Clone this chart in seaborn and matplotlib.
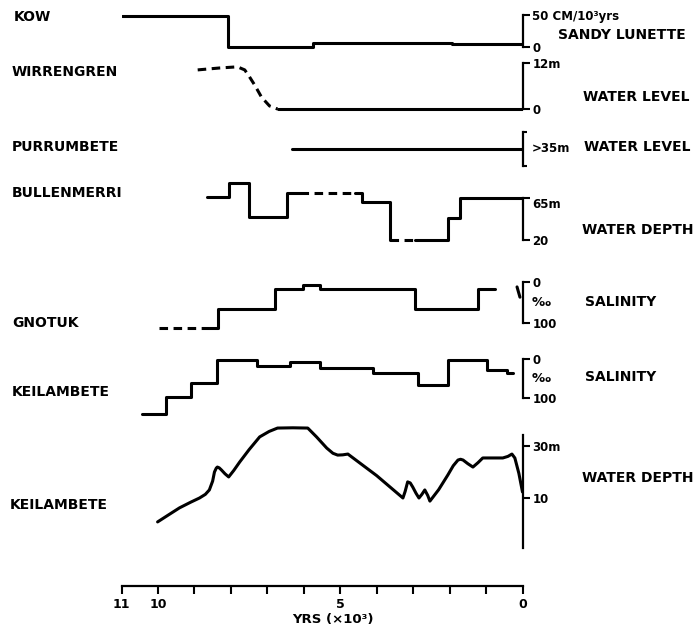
import matplotlib
matplotlib.use("Agg")
import matplotlib.pyplot as plt
import seaborn as sns

# ---------------- data (time in 10^3 yrs BP) ----------------
# KOW sandy lunette accumulation (cm / 10^3 yrs)
kow_t = [11.0, 8.09, 5.75, 1.93, 0.0]
kow_v = [48, 0, 6.7, 5.2, 5.2]

# WIRRENGREN water level (m)
wir_dash_t = [8.91, 8.31, 7.82, 7.62, 7.49, 7.35, 7.16, 6.94, 6.72]
wir_dash_v = [10.2, 10.7, 11.0, 10.2, 8.4, 6.3, 3.1, 0.8, 0.0]
wir_t = [6.72, 0.0]
wir_v = [0.0, 0.0]

# PURRUMBETE water level (m)
pur_t = [6.32, 0.0]
pur_v = [35, 35]

# BULLENMERRI water depth (m)
bul_a_t = [8.66, 8.04, 7.49, 6.47, 6.10]
bul_a_v = [66, 81, 45, 70, 70]
bul_b_t = [6.10, 4.60]
bul_b_v = [70, 70]
bul_c_t = [4.60, 4.40, 3.64]
bul_c_v = [70, 61, 20]
bul_d_t = [3.64, 2.95]
bul_d_v = [20, 20]
bul_e_t = [2.95, 2.05, 1.72, 0.20, 0.0]
bul_e_v = [20, 44, 65, 65, 58]

# GNOTUK salinity (per mille)
gno_dash_t = [9.96, 8.60]
gno_dash_v = [112, 112]
gno_t = [8.60, 8.36, 6.80, 6.03, 5.56, 2.95, 1.22, 0.76]
gno_v = [112, 66, 17, 7, 17, 66, 17, 17]
gno_mark_t = [0.15, 0.07]
gno_mark_v = [12, 37]

# KEILAMBETE salinity (per mille)
kes_t = [10.43, 9.77, 9.08, 8.37, 7.29, 6.39, 5.56, 4.11, 2.87, 2.05, 0.98, 0.43, 0.26]
kes_v = [141, 97, 62, 3, 18, 8, 23, 36, 67, 3, 28, 36, 36]

# KEILAMBETE water depth (m)
ked_t = [10.01, 9.70, 9.41, 9.10, 8.86, 8.70, 8.59, 8.50, 8.45, 8.40, 8.37, 8.32,
         8.26, 8.16, 8.06, 7.92, 7.76, 7.50, 7.21, 6.95, 6.72, 6.30, 5.89, 5.65,
         5.37, 5.20, 5.07, 4.93, 4.79, 4.00, 3.28, 3.22, 3.15, 3.08, 3.01, 2.92,
         2.84, 2.76, 2.68, 2.60, 2.54, 2.30, 2.05, 1.90, 1.77, 1.70, 1.63, 1.50,
         1.36, 1.22, 1.09, 0.80, 0.54, 0.40, 0.29, 0.21, 0.10, 0.0]
ked_v = [0.8, 3.6, 6.2, 8.4, 10.0, 11.4, 13.1, 16.5, 20.0, 21.5, 21.9, 21.6,
         20.8, 19.3, 18.1, 20.6, 23.8, 28.6, 33.5, 35.6, 36.9, 37.0, 36.9, 33.5,
         29.2, 27.2, 26.5, 26.6, 26.9, 18.6, 10.0, 12.5, 16.2, 15.8, 14.2, 11.8,
         10.0, 11.4, 13.1, 11.0, 8.8, 13.2, 18.8, 22.4, 24.6, 24.9, 24.6, 23.2,
         21.9, 23.6, 25.4, 25.4, 25.4, 26.0, 26.9, 25.4, 19.5, 12.3]

year_ticks = list(range(11, -1, -1))
year_labels = ["11", "10", "", "", "", "", "5", "", "", "", "", "0"]

# ---------------- styling ----------------
sns.set_style("white")
plt.rcParams["font.family"] = ["DejaVu Sans"]
plt.rcParams["font.weight"] = "bold"
plt.rcParams["text.color"] = "black"
plt.rcParams["xtick.color"] = "black"
plt.rcParams["ytick.color"] = "black"

W, H = 696, 631
fig = plt.figure(figsize=(W / 100, H / 100), dpi=100)
X0, X1 = 121.5, 522.5
LW = 2.2


def panel(ytop, ybot, v1, y1, v2, y2):
    ax = fig.add_axes([X0 / W, 1 - ybot / H, (X1 - X0) / W, (ybot - ytop) / H])
    k = (v2 - v1) / (y2 - y1)
    ax._lims = (v1 + (ybot - y1) * k, v1 + (ytop - y1) * k)
    ax.patch.set_alpha(0)
    for s in ["left", "top", "bottom"]:
        ax.spines[s].set_visible(False)
    ax.spines["right"].set_linewidth(1.6)
    ax.spines["right"].set_color("black")
    ax.yaxis.tick_right()
    ax.tick_params(axis="y", right=True, direction="out", length=5, width=1.5,
                   pad=2, labelsize=8.5, colors="black")
    return ax


def finish(ax):
    ax.set_xlim(11, 0)
    ax.set_ylim(*ax._lims)
    ax.set_xticks([])
    ax.set_xlabel("")
    ax.set_ylabel("")


def draw(ax, t, v, dashed=False, steps=True):
    sns.lineplot(x=t, y=v, ax=ax, color="black", linewidth=LW, estimator=None,
                 sort=False, legend=False,
                 drawstyle="steps-post" if steps else "default",
                 linestyle=(0, (2.8, 1.8)) if dashed else "-")


def side_text(ax, v, s, dx=9, size=8.5):
    ax.text(1.0 + dx / (X1 - X0), v, s, transform=ax.get_yaxis_transform(),
            ha="left", va="center", fontsize=size, color="black")


# KOW
ax = panel(5, 55, 50, 15, 0, 47)
draw(ax, kow_t, kow_v)
ax.spines["right"].set_bounds(0, 50)
ax.set_yticks([50, 0])
ax.set_yticklabels(["50 CM/10³yrs", "0"])
finish(ax)

# WIRRENGREN
ax = panel(55, 118, 12, 63, 0, 109)
draw(ax, wir_dash_t, wir_dash_v, dashed=True, steps=False)
draw(ax, wir_t, wir_v)
ax.spines["right"].set_bounds(0, 12)
ax.set_yticks([12, 0])
ax.set_yticklabels(["12m", "0"])
finish(ax)

# PURRUMBETE
ax = panel(125, 175, 35, 149, 0, 184)
draw(ax, pur_t, pur_v)
ax.spines["right"].set_bounds(18, 52)
ax.set_yticks([52, 18])
ax.set_yticklabels(["", ""])
ax.tick_params(axis="y", length=3)
side_text(ax, 35, ">35m")
finish(ax)

# BULLENMERRI
ax = panel(175, 252, 65, 198, 20, 240)
draw(ax, bul_a_t, bul_a_v)
draw(ax, bul_b_t, bul_b_v, dashed=True)
draw(ax, bul_c_t, bul_c_v)
draw(ax, bul_d_t, bul_d_v, dashed=True)
draw(ax, bul_e_t, bul_e_v)
ax.spines["right"].set_bounds(20, 65)
ax.set_yticks([65, 20])
ax.set_yticklabels(["65m", "20"])
ax.get_yticklabels()[0].set_va("top")
finish(ax)

# GNOTUK
ax = panel(272, 335, 0, 282, 100, 323)
draw(ax, gno_dash_t, gno_dash_v, dashed=True)
draw(ax, gno_t, gno_v)
draw(ax, gno_mark_t, gno_mark_v, steps=False)
ax.spines["right"].set_bounds(0, 100)
ax.set_yticks([0, 100])
ax.set_yticklabels(["0", "100"])
side_text(ax, 50, "‰", size=9.5)
finish(ax)

# KEILAMBETE salinity
ax = panel(350, 422, 0, 359, 100, 398)
draw(ax, kes_t, kes_v)
ax.spines["right"].set_bounds(0, 100)
ax.set_yticks([0, 100])
ax.set_yticklabels(["0", "100"])
side_text(ax, 50, "‰", size=9.5)
finish(ax)

# KEILAMBETE water depth
ax = panel(425, 555, 30, 446, 10, 498)
draw(ax, ked_t, ked_v, steps=False)
ax.spines["right"].set_bounds(-9.2, 34.2)
ax.set_yticks([30, 10])
ax.set_yticklabels(["30m", "10"])
finish(ax)

# time axis
axb = fig.add_axes([X0 / W, 1 - 586 / H, (X1 - X0) / W, 10 / H])
axb.patch.set_alpha(0)
for s in ["left", "right", "top"]:
    axb.spines[s].set_visible(False)
axb.spines["bottom"].set_linewidth(1.6)
axb.spines["bottom"].set_color("black")
axb.set_xlim(11, 0)
axb.set_yticks([])
axb.set_xticks(year_ticks)
axb.set_xticklabels(year_labels)
axb.tick_params(axis="x", bottom=True, direction="out", length=6, width=1.5,
                labelsize=9, pad=3, colors="black")
fig.text(333 / W, 1 - 620 / H, "YRS (×10³)", ha="center", va="center",
         fontsize=9.5, color="black")

# lake names (left)
left_labels = [("KOW", 14, 17), ("WIRRENGREN", 12, 72), ("PURRUMBETE", 12, 147),
               ("BULLENMERRI", 12, 193), ("GNOTUK", 12, 323), ("KEILAMBETE", 12, 392),
               ("KEILAMBETE", 10, 505)]
for s, x, y in left_labels:
    fig.text(x / W, 1 - y / H, s, ha="left", va="center", fontsize=10, color="black")

# variable names (right)
right_labels = [("SANDY LUNETTE", 558, 35), ("WATER LEVEL", 583, 97),
                ("WATER LEVEL", 584, 147), ("WATER DEPTH", 582, 230),
                ("SALINITY", 585, 302), ("SALINITY", 585, 377),
                ("WATER DEPTH", 582, 478)]
for s, x, y in right_labels:
    fig.text(x / W, 1 - y / H, s, ha="left", va="center", fontsize=10, color="black")

fig.savefig("out.png", dpi=100)
